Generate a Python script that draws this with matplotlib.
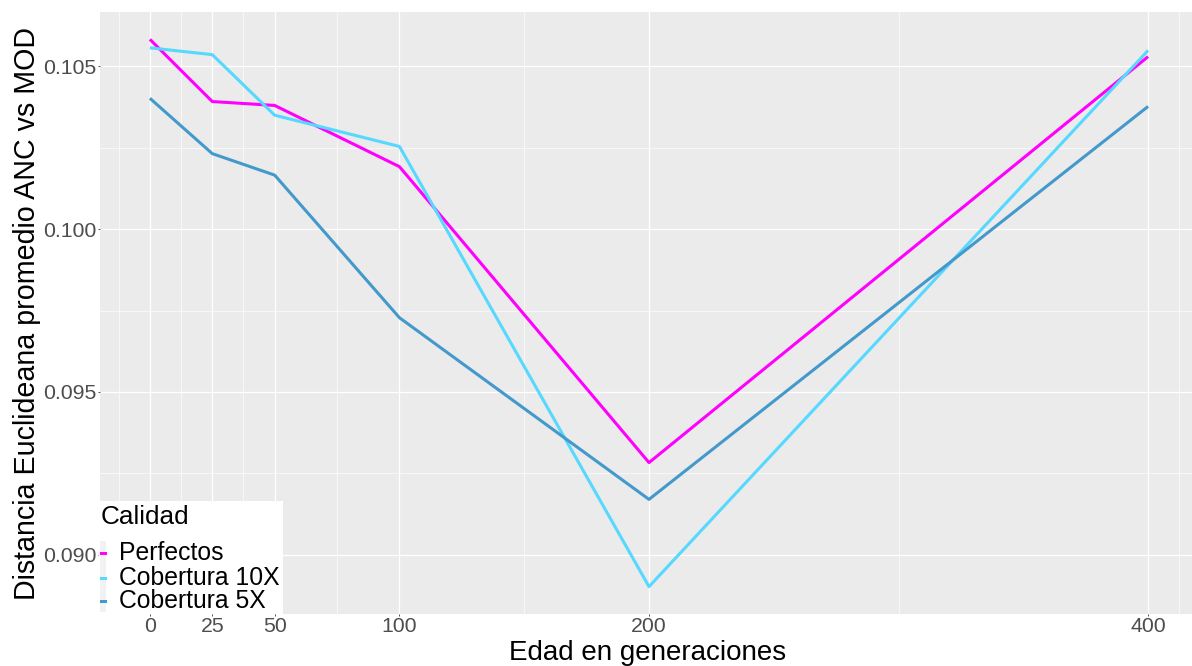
import matplotlib
matplotlib.use("Agg")
import matplotlib.pyplot as plt
from matplotlib.lines import Line2D
from matplotlib.patches import Rectangle

plt.rcParams['font.family'] = ['Liberation Sans', 'DejaVu Sans']

edad = [0, 25, 50, 100, 200, 400]
series_names = ["Perfectos", "Cobertura 10X", "Cobertura 5X"]
perfectos = [0.10583, 0.10392, 0.10380, 0.10192, 0.09283, 0.10530]
cob10 = [0.10557, 0.10536, 0.10350, 0.10254, 0.08902, 0.10549]
cob5 = [0.10402, 0.10232, 0.10166, 0.09728, 0.09170, 0.10377]
colors = ["#FF00FF", "#56D8FF", "#4499CC"]
xticks = [0, 25, 50, 100, 200, 400]
yticks = [0.090, 0.095, 0.100, 0.105]
xminor = [-12.5, 12.5, 37.5, 75, 150, 300, 412.5]
yminor = [0.0925, 0.0975, 0.1025]

W, H = 1192, 666
fig = plt.figure(figsize=(W / 100, H / 100), dpi=100)
L, R, T, B = 100, 1198, 12, 614
ax = fig.add_axes([L / W, 1 - B / H, (R - L) / W, (B - T) / H])
ax.set_facecolor("#EBEBEB")
for s in ax.spines.values():
    s.set_visible(False)

for xm in xminor:
    ax.axvline(xm, color="white", lw=0.45, zorder=0.5)
for ym in yminor:
    ax.axhline(ym, color="white", lw=0.45, zorder=0.5)
for xm in xticks:
    ax.axvline(xm, color="white", lw=0.9, zorder=0.6)
for ym in yticks:
    ax.axhline(ym, color="white", lw=0.9, zorder=0.6)

for vals, c in zip([perfectos, cob10, cob5], colors):
    ax.plot(edad, vals, color=c, lw=2.2, solid_capstyle="butt", zorder=2)

ymin = min(min(perfectos), min(cob10), min(cob5))
ymax = max(max(perfectos), max(cob10), max(cob5))
ex = (ymax - ymin) * 0.05
ax.set_ylim(ymin - ex, ymax + ex)
ax.set_xlim(-20, 420)

ax.set_xticks(xticks)
ax.set_xticklabels([str(v) for v in xticks])
ax.set_yticks(yticks)
ax.set_yticklabels([f"{v:.3f}" for v in yticks])
ax.tick_params(axis="both", colors="#333333", length=1.5, width=0.6, labelsize=15.3,
               labelcolor="#4D4D4D", pad=1)


def fx(px):
    return px / W


def fy(py):
    return 1 - py / H


fig.text(fx(648), fy(660), "Edad en generaciones", fontsize=20, ha="center", va="baseline")
fig.text(fx(27), fy(313), "Distancia Euclideana promedio ANC vs MOD", fontsize=20.6,
         ha="center", va="center", rotation=90)

# legend drawn in pixel coords (inside bottom-left)
fig.patches.append(Rectangle((fx(99), fy(614)), fx(283) - fx(99), fy(501) - fy(614),
                             transform=fig.transFigure, facecolor="white",
                             edgecolor="none", zorder=5))
fig.patches.append(Rectangle((fx(100), fy(612)), fx(106) - fx(100), fy(541) - fy(612),
                             transform=fig.transFigure, facecolor="#F2F2F2",
                             edgecolor="none", zorder=6))
fig.text(fx(101), fy(517), "Calidad", fontsize=18.8, va="center", ha="left", zorder=7)
key_y = [553, 578, 601]
for name, c, ky in zip(series_names, colors, key_y):
    fig.lines.append(Line2D([fx(101), fx(105)], [fy(ky), fy(ky)], transform=fig.transFigure,
                            color=c, lw=2.2, zorder=7))
    fig.text(fx(119), fy(ky), name, fontsize=17.8, va="center", ha="left", zorder=7)

fig.savefig("out.png", dpi=100)
